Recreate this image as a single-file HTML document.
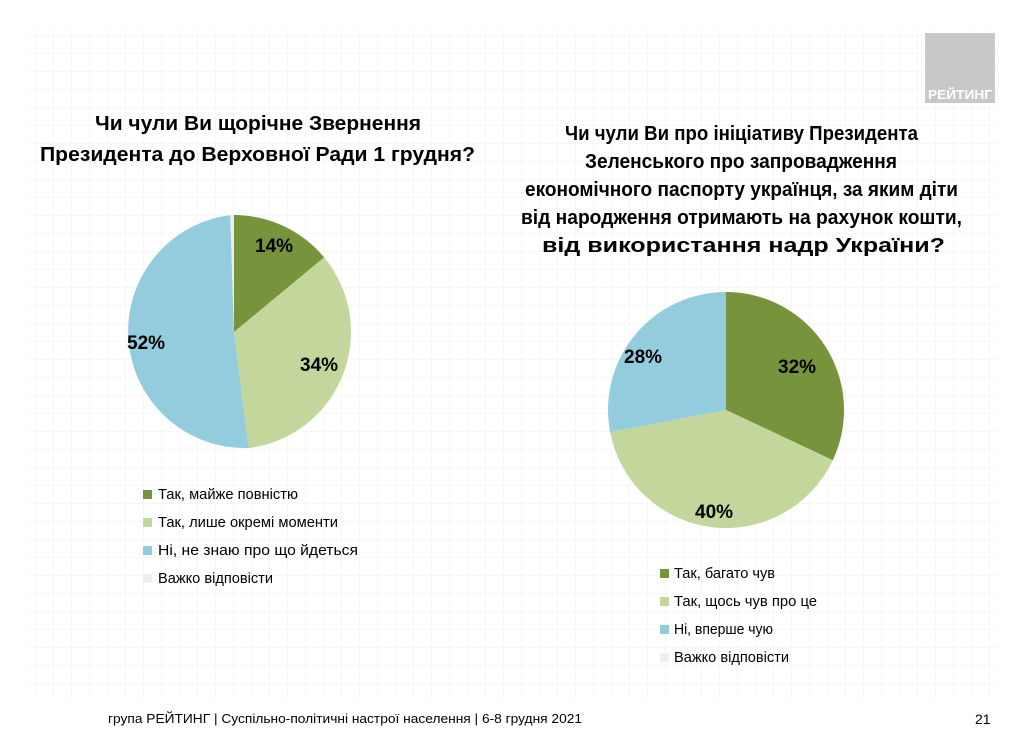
<!DOCTYPE html>
<html><head><meta charset="utf-8"><style>
html,body{margin:0;padding:0;background:#fff;}
svg{display:block;font-family:"Liberation Sans Narrow","Liberation Sans",sans-serif;}
</style></head><body>
<svg width="1024" height="732" viewBox="0 0 1024 732" xmlns="http://www.w3.org/2000/svg">
<defs>
<pattern id="g" width="18" height="18" patternUnits="userSpaceOnUse">
<path d="M18 0V18M0 18H18" stroke="#efefef" stroke-width="1" fill="none"/>
</pattern>
</defs>
<rect width="1024" height="732" fill="#fff"/>
<rect x="28" y="28" width="970" height="670" fill="url(#g)"/>
<rect x="925" y="33" width="70" height="70" fill="#c8c8c8"/>
<text x="960" y="99" font-family="Liberation Sans,sans-serif" font-weight="bold" font-size="13" fill="#fff" text-anchor="middle" textLength="64" lengthAdjust="spacingAndGlyphs">РЕЙТИНГ</text>

<g font-weight="bold" font-size="20" fill="#000">
<text x="95" y="130" textLength="326" lengthAdjust="spacingAndGlyphs">Чи чули Ви щорічне Звернення</text>
<text x="40" y="161" textLength="435" lengthAdjust="spacingAndGlyphs">Президента до Верховної Ради 1 грудня?</text>
<text x="565" y="140" textLength="353" lengthAdjust="spacingAndGlyphs">Чи чули Ви про ініціативу Президента</text>
<text x="585" y="168" textLength="312" lengthAdjust="spacingAndGlyphs">Зеленського про запровадження</text>
<text x="525" y="196" textLength="433" lengthAdjust="spacingAndGlyphs">економічного паспорту українця, за яким діти</text>
<text x="521" y="224" textLength="441" lengthAdjust="spacingAndGlyphs">від народження отримають на рахунок кошти,</text>
<text x="542" y="252" textLength="403" lengthAdjust="spacingAndGlyphs">від використання надр України?</text>
</g>

<!-- pie 1 -->
<path d="M234 332L234 215A117 117 0 0 1 324.1 257.4Z" fill="#77933C"/>
<path d="M234 332L324.1 257.4A117 117 0 0 1 248.7 448.1Z" fill="#C3D69B"/>
<path d="M234 332L248.7 448.1A117 117 0 0 1 230.3 215.1Z" fill="#93CDDD"/>
<path d="M234 332L230.3 215.1A117 117 0 0 1 234 215Z" fill="#eeeeee"/>
<g font-weight="bold" font-size="19" fill="#000">
<text x="255" y="252">14%</text>
<text x="300" y="371">34%</text>
<text x="127" y="349">52%</text>
</g>

<!-- pie 2 -->
<path d="M726 410L726 292A118 118 0 0 1 832.8 460.2Z" fill="#77933C"/>
<path d="M726 410L832.8 460.2A118 118 0 0 1 610.1 432.1Z" fill="#C3D69B"/>
<path d="M726 410L610.1 432.1A118 118 0 0 1 726 292Z" fill="#93CDDD"/>
<g font-weight="bold" font-size="19" fill="#000">
<text x="778" y="373">32%</text>
<text x="695" y="518">40%</text>
<text x="624" y="363">28%</text>
</g>

<g font-size="15" fill="#000">
<rect x="143" y="490" width="9" height="9" fill="#77933C"/>
<text x="158" y="499" textLength="140" lengthAdjust="spacingAndGlyphs">Так, майже повністю</text>
<rect x="143" y="518" width="9" height="9" fill="#C3D69B"/>
<text x="158" y="527" textLength="180" lengthAdjust="spacingAndGlyphs">Так, лише окремі моменти</text>
<rect x="143" y="546" width="9" height="9" fill="#93CDDD"/>
<text x="158" y="555" textLength="200" lengthAdjust="spacingAndGlyphs">Ні, не знаю про що йдеться</text>
<rect x="143" y="574" width="9" height="9" fill="#eeeeee"/>
<text x="158" y="583" textLength="115" lengthAdjust="spacingAndGlyphs">Важко відповісти</text>

<rect x="660" y="569" width="9" height="9" fill="#77933C"/>
<text x="674" y="578" textLength="101" lengthAdjust="spacingAndGlyphs">Так, багато чув</text>
<rect x="660" y="597" width="9" height="9" fill="#C3D69B"/>
<text x="674" y="606" textLength="143" lengthAdjust="spacingAndGlyphs">Так, щось чув про це</text>
<rect x="660" y="625" width="9" height="9" fill="#93CDDD"/>
<text x="674" y="634" textLength="99" lengthAdjust="spacingAndGlyphs">Ні, вперше чую</text>
<rect x="660" y="653" width="9" height="9" fill="#eeeeee"/>
<text x="674" y="662" textLength="115" lengthAdjust="spacingAndGlyphs">Важко відповісти</text>
</g>

<text x="108" y="723" font-family="Liberation Sans,sans-serif" font-size="13" fill="#000" textLength="474" lengthAdjust="spacingAndGlyphs">група РЕЙТИНГ | Суспільно-політичні настрої населення  | 6-8 грудня 2021</text>
<text x="975" y="724" font-family="Liberation Sans,sans-serif" font-size="14" fill="#000">21</text>
</svg>
</body></html>
